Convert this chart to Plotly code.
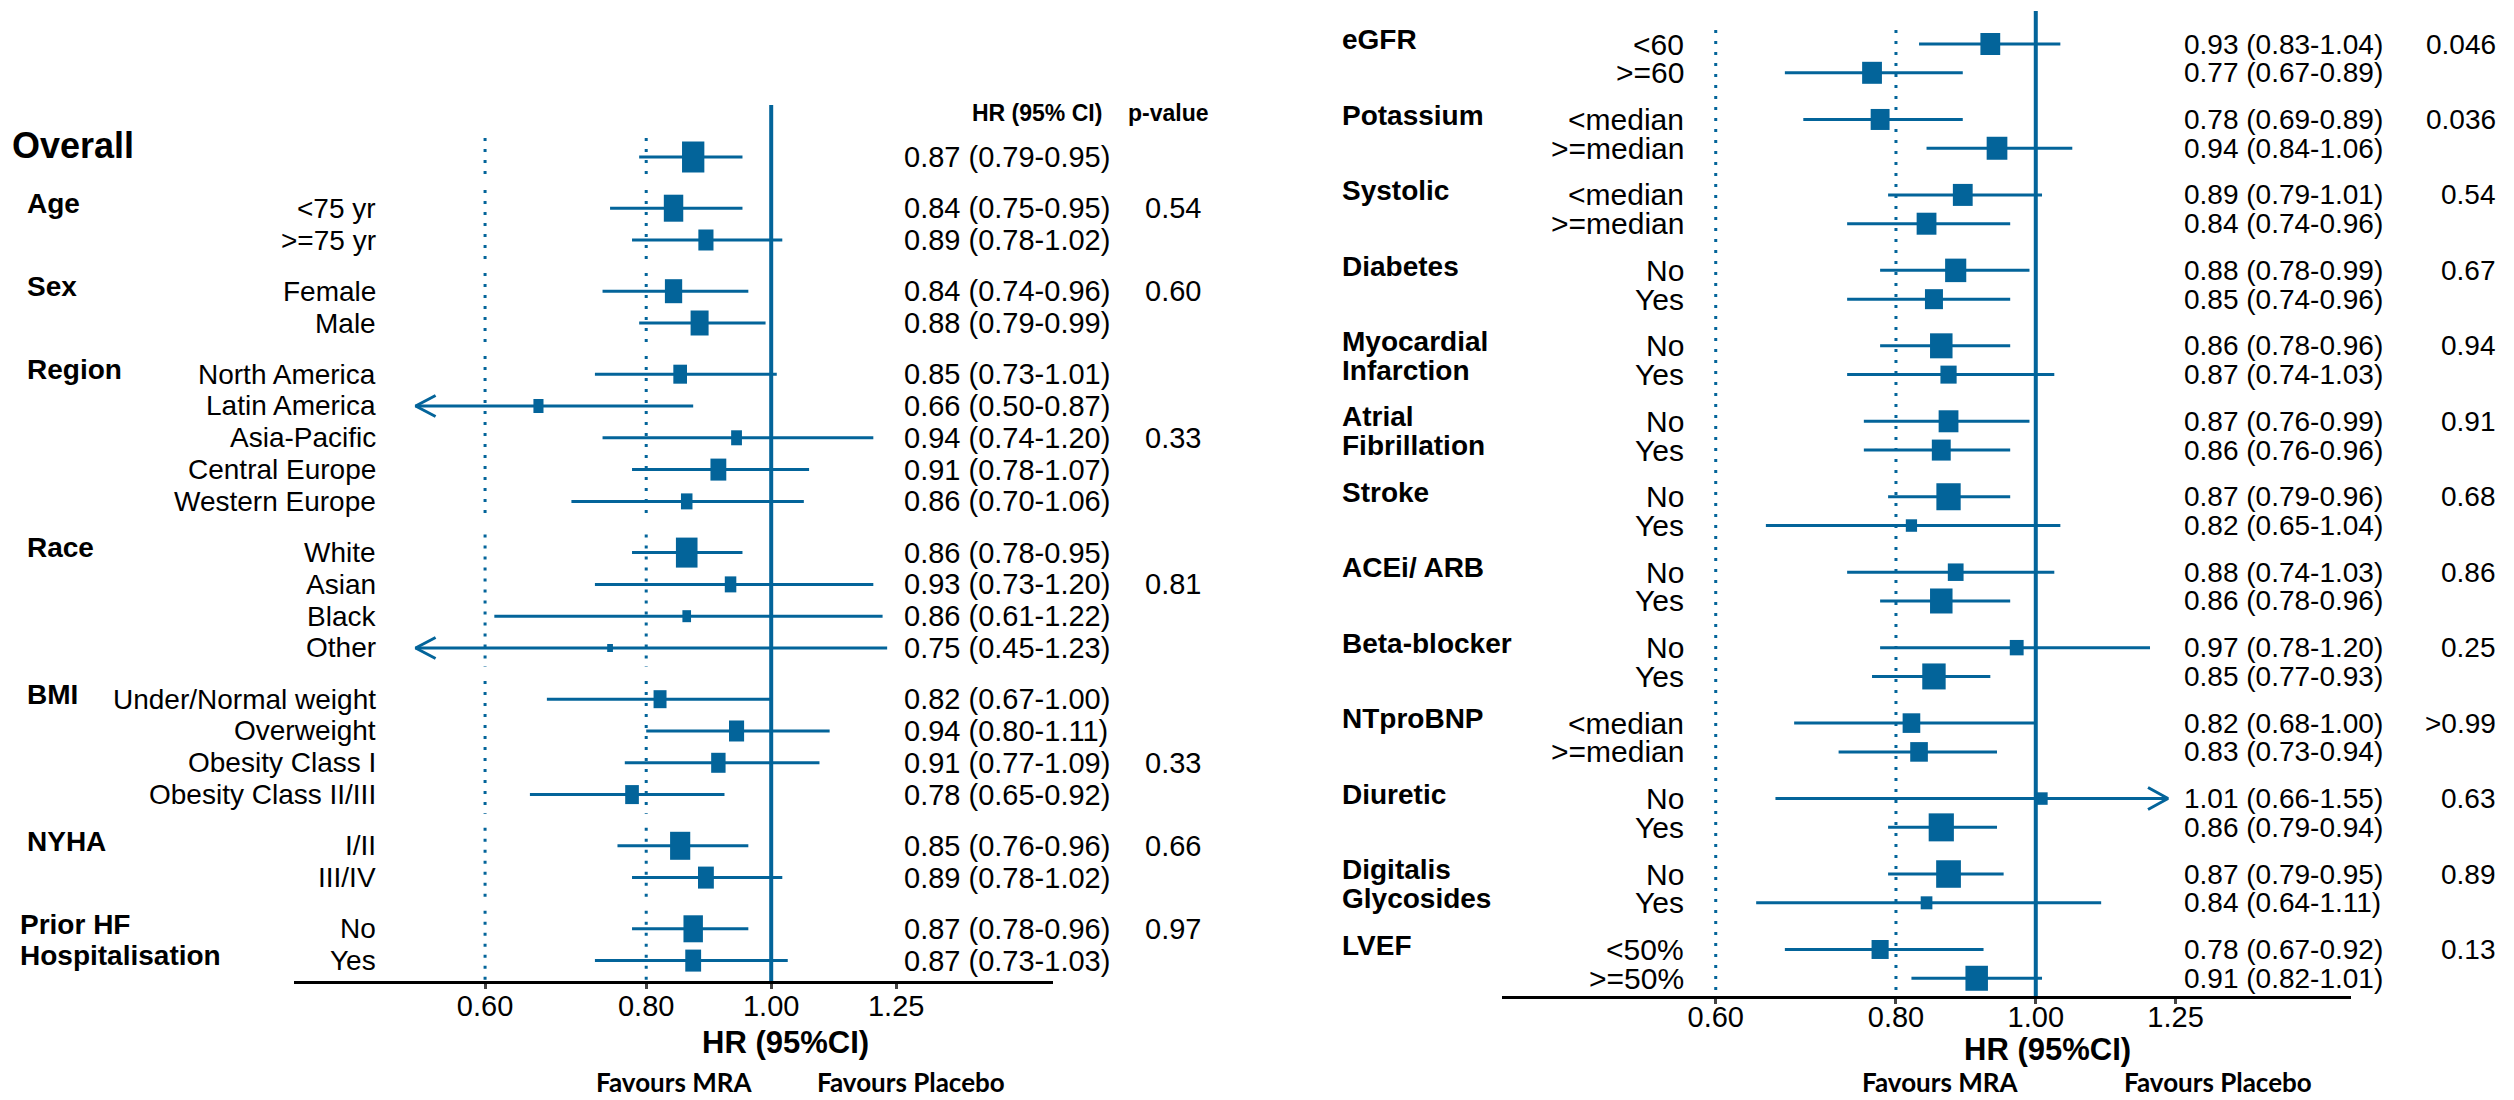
import math
import plotly.graph_objects as go

# ---------------- left panel: baseline characteristics ----------------
left_groups = ["Overall", "Age", "Sex", "Region", "Race", "BMI", "NYHA",
               "Prior HF\nHospitalisation"]
left_group_sizes = [1, 2, 2, 5, 4, 4, 2, 2]
left_sub = ["", "<75 yr", ">=75 yr", "Female", "Male",
            "North America", "Latin America", "Asia-Pacific", "Central Europe", "Western Europe",
            "White", "Asian", "Black", "Other",
            "Under/Normal weight", "Overweight", "Obesity Class I", "Obesity Class II/III",
            "I/II", "III/IV", "No", "Yes"]
left_hr = [0.87, 0.84, 0.89, 0.84, 0.88, 0.85, 0.66, 0.94, 0.91, 0.86,
           0.86, 0.93, 0.86, 0.75, 0.82, 0.94, 0.91, 0.78, 0.85, 0.89, 0.87, 0.87]
left_lo = [0.79, 0.75, 0.78, 0.74, 0.79, 0.73, 0.50, 0.74, 0.78, 0.70,
           0.78, 0.73, 0.61, 0.45, 0.67, 0.80, 0.77, 0.65, 0.76, 0.78, 0.78, 0.73]
left_hi = [0.95, 0.95, 1.02, 0.96, 0.99, 1.01, 0.87, 1.20, 1.07, 1.06,
           0.95, 1.20, 1.22, 1.23, 1.00, 1.11, 1.09, 0.92, 0.96, 1.02, 0.96, 1.03]
left_weight = [31, 27, 21, 24, 25, 19, 14, 15, 22, 16,
               30, 16, 12, 8, 18, 21, 20, 19, 28, 22, 27, 22]
left_pvalue = ["", "0.54", "0.60", "0.33", "0.81", "0.33", "0.66", "0.97"]
left_pvalue_row = [0, 0, 0, 2, 1, 2, 0, 0]

# ---------------- right panel: labs, comorbidities, therapy ----------------
right_groups = ["eGFR", "Potassium", "Systolic", "Diabetes", "Myocardial\nInfarction",
                "Atrial\nFibrillation", "Stroke", "ACEi/ ARB", "Beta-blocker", "NTproBNP",
                "Diuretic", "Digitalis\nGlycosides", "LVEF"]
right_group_sizes = [2] * 13
right_sub = ["<60", ">=60", "<median", ">=median", "<median", ">=median",
             "No", "Yes", "No", "Yes", "No", "Yes", "No", "Yes", "No", "Yes",
             "No", "Yes", "<median", ">=median", "No", "Yes", "No", "Yes", "<50%", ">=50%"]
right_hr = [0.93, 0.77, 0.78, 0.94, 0.89, 0.84, 0.88, 0.85, 0.86, 0.87, 0.87, 0.86, 0.87,
            0.82, 0.88, 0.86, 0.97, 0.85, 0.82, 0.83, 1.01, 0.86, 0.87, 0.84, 0.78, 0.91]
right_lo = [0.83, 0.67, 0.69, 0.84, 0.79, 0.74, 0.78, 0.74, 0.78, 0.74, 0.76, 0.76, 0.79,
            0.65, 0.74, 0.78, 0.78, 0.77, 0.68, 0.73, 0.66, 0.79, 0.79, 0.64, 0.67, 0.82]
right_hi = [1.04, 0.89, 0.89, 1.06, 1.01, 0.96, 0.99, 0.96, 0.96, 1.03, 0.99, 0.96, 0.96,
            1.04, 1.03, 0.96, 1.20, 0.93, 1.00, 0.94, 1.55, 0.94, 0.95, 1.11, 0.92, 1.01]
right_weight = [22, 22, 21, 23, 22, 22, 23.5, 20, 25, 18, 22, 21, 27,
                12.5, 17.5, 25, 15.4, 26, 19.6, 19.6, 12.5, 28, 27.5, 13, 19, 25]
right_pvalue = ["0.046", "0.036", "0.54", "0.67", "0.94", "0.91", "0.68",
                "0.86", "0.25", ">0.99", "0.63", "0.89", "0.13"]
right_pvalue_row = [0] * 13

tick_vals = [0.60, 0.80, 1.00, 1.25]
tick_text = ["0.60", "0.80", "1.00", "1.25"]
dotted_refs = [0.60, 0.80]

# ---------------- layout constants ----------------
W, H = 2514, 1100
BLUE = "#03649a"
FONT = "Liberation Sans"
LOG_RANGE = [-0.37, 0.2185]
CLIP_LO, CLIP_HI = 0.53, 1.235

panels = [
    dict(xa="x", ya="y", x0=294, x1=1053, top=100, axis=981, row0=157, unit=31.8,
         gap=0.61, aspect=0.72, seg_dots=True, solid_top=105, dot_top=138,
         groups=left_groups, sizes=left_group_sizes, sub=left_sub, hr=left_hr,
         lo=left_lo, hi=left_hi, weight=left_weight, pv=left_pvalue, pvrow=left_pvalue_row,
         grp_x=25, sub_x=378, sub_size=28, hr_x=902, txt_size=29, tick_shift=-8,
         p_x=1143, p_anchor="left", arm=20, arm_h=10.5, title_x=785, title_y=1042,
         fav=[(674, "Favours MRA"), (911, "Favours Placebo")]),
    dict(xa="x2", ya="y2", x0=1502, x1=2351, top=8, axis=996, row0=44, unit=28.8,
         gap=0.62, aspect=0.9, seg_dots=False, solid_top=11, dot_top=30,
         groups=right_groups, sizes=right_group_sizes, sub=right_sub, hr=right_hr,
         lo=right_lo, hi=right_hi, weight=right_weight, pv=right_pvalue, pvrow=right_pvalue_row,
         grp_x=1340, sub_x=1686, sub_size=30, hr_x=2182, txt_size=28, tick_shift=-12,
         p_x=2498, p_anchor="right", arm=20, arm_h=11, title_x=2047, title_y=1049,
         fav=[(1940, "Favours MRA"), (2218, "Favours Placebo")]),
]


def row_positions(sizes, gap):
    pos, starts, y = [], [], 0.0
    for gi, n in enumerate(sizes):
        if gi > 0:
            y += gap
        starts.append(len(pos))
        for _ in range(n):
            pos.append(y)
            y += 1
    return pos, starts


fig = go.Figure()
annotations = []


def ann(text, xpx, y, yref, size, bold=False, xanchor="left", family=FONT):
    annotations.append(dict(
        text=f"<b>{text}</b>" if bold else text, x=xpx / W, xref="paper", y=y, yref=yref,
        xanchor=xanchor, yanchor="middle", showarrow=False,
        font=dict(family=family, size=size, color="black")))


for i, p in enumerate(panels):
    rows, starts = row_positions(p["sizes"], p["gap"])
    px2row = lambda px: (px - p["row0"]) / p["unit"]
    axis_row = px2row(p["axis"])
    ppl = (p["x1"] - p["x0"]) / ((LOG_RANGE[1] - LOG_RANGE[0]) * math.log(10))

    # vertical reference at HR = 1
    fig.add_trace(go.Scatter(x=[1, 1], y=[px2row(p["solid_top"]), axis_row], mode="lines",
                             line=dict(color=BLUE, width=4), xaxis=p["xa"], yaxis=p["ya"],
                             hoverinfo="skip", showlegend=False))
    # dotted references at 0.60 and 0.80
    dx, dy = [], []
    for v in dotted_refs:
        if p["seg_dots"]:
            for gi, n in enumerate(p["sizes"]):
                a = rows[starts[gi]] - 0.57
                b = rows[starts[gi] + n - 1] + 0.6
                if gi == 0:
                    a = px2row(p["dot_top"])
                dx += [v, v, None]
                dy += [a, min(b, axis_row), None]
        else:
            dx += [v, v, None]
            dy += [px2row(p["dot_top"]), axis_row, None]
    fig.add_trace(go.Scatter(x=dx, y=dy, mode="lines",
                             line=dict(color=BLUE, width=3, dash="3px,8px"),
                             xaxis=p["xa"], yaxis=p["ya"], hoverinfo="skip", showlegend=False))

    # confidence intervals (+ open arrowheads where clipped)
    cx, cy = [], []
    for r, lo, hi in zip(rows, p["lo"], p["hi"]):
        cx += [max(lo, CLIP_LO), min(hi, CLIP_HI), None]
        cy += [r, r, None]
        ah = p["arm_h"] / p["unit"]
        if lo < CLIP_LO:
            back = CLIP_LO * math.exp(p["arm"] / ppl)
            cx += [back, CLIP_LO, back, None]
            cy += [r - ah, r, r + ah, None]
        if hi > CLIP_HI:
            back = CLIP_HI * math.exp(-p["arm"] / ppl)
            cx += [back, CLIP_HI, back, None]
            cy += [r - ah, r, r + ah, None]
    fig.add_trace(go.Scatter(x=cx, y=cy, mode="lines", line=dict(color=BLUE, width=3),
                             xaxis=p["xa"], yaxis=p["ya"], hoverinfo="skip", showlegend=False))

    # point estimates: rectangles sized by weight
    fig.add_trace(go.Scatter(
        x=p["hr"], y=rows, mode="markers", xaxis=p["xa"], yaxis=p["ya"],
        marker=dict(symbol="line-ns", size=[w / 1.4 for w in p["weight"]], color=BLUE,
                    opacity=1,
                    line=dict(color=BLUE, width=[w * p["aspect"] for w in p["weight"]])),
        hoverinfo="skip", showlegend=False))

    # axes
    suffix = "" if i == 0 else str(i + 1)
    fig.update_layout(**{
        "xaxis" + suffix: dict(
            type="log", range=LOG_RANGE, domain=[p["x0"] / W, p["x1"] / W],
            anchor=p["ya"], showline=True, linecolor="black", linewidth=3,
            ticks="outside", ticklen=5, tickwidth=3, tickcolor="#444",
            ticklabelstandoff=p["tick_shift"],
            tickvals=tick_vals, ticktext=tick_text,
            tickfont=dict(family=FONT, size=29, color="black"),
            showgrid=False, zeroline=False, fixedrange=True),
        "yaxis" + suffix: dict(
            domain=[1 - p["axis"] / H, 1 - p["top"] / H],
            range=[axis_row, px2row(p["top"])], anchor=p["xa"], visible=False,
            fixedrange=True),
    })

    yref = p["ya"]
    # group labels
    for gi, g in enumerate(p["groups"]):
        r0 = rows[starts[gi]]
        if g == "Overall":
            ann("Overall", 10, r0 - 0.35, yref, 36, bold=True)
            continue
        for k, line in enumerate(g.split("\n")):
            xg = p["grp_x"] - (7 if "Hospitalisation" in g else 0)
            ann(line, xg, r0 + k - 0.15, yref, 28, bold=True)
        if p["pv"][gi]:
            ann(p["pv"][gi], p["p_x"], rows[starts[gi] + p["pvrow"][gi]], yref,
                p["txt_size"], xanchor=p["p_anchor"])
    # subgroup labels and estimates
    for r, s, hr, lo, hi in zip(rows, p["sub"], p["hr"], p["lo"], p["hi"]):
        if s:
            ann(s, p["sub_x"], r, yref, p["sub_size"], xanchor="right")
        ann(f"{hr:.2f} ({lo:.2f}-{hi:.2f})", p["hr_x"], r, yref, p["txt_size"])

    # axis title and direction labels
    annotations.append(dict(text="<b>HR (95%CI)</b>", x=p["title_x"] / W, xref="paper",
                            y=1 - p["title_y"] / H, yref="paper", xanchor="center",
                            yanchor="middle", showarrow=False,
                            font=dict(family=FONT, size=31, color="black")))
    for fx, ftxt in p["fav"]:
        annotations.append(dict(text=f"<b>{ftxt}</b>", x=fx / W, xref="paper",
                                y=0, yref="paper", xanchor="center",
                                yanchor="bottom", showarrow=False,
                                font=dict(family="Lato", size=26, color="black")))

# column headers
for txt, cx in [("HR (95% CI)", 1037), ("p-value", 1168)]:
    annotations.append(dict(text=f"<b>{txt}</b>", x=cx / W, xref="paper", y=1 - 113 / H,
                            yref="paper", xanchor="center", yanchor="middle", showarrow=False,
                            font=dict(family=FONT, size=23, color="black")))

fig.update_layout(width=W, height=H, margin=dict(l=0, r=0, t=0, b=0),
                  paper_bgcolor="white", plot_bgcolor="white",
                  annotations=annotations, showlegend=False)

fig.write_html("out.html")
